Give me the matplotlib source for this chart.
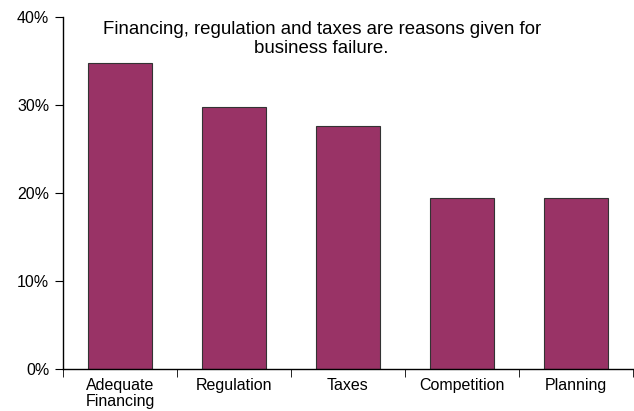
import matplotlib
matplotlib.use("Agg")
import matplotlib.pyplot as plt
import numpy as np

categories = ["Adequate\nFinancing", "Regulation", "Taxes", "Competition", "Planning"]
values = [34.8, 29.8, 27.6, 19.5, 19.5]
yticks = [0, 10, 20, 30, 40]
ytick_labels = ["0%", "10%", "20%", "30%", "40%"]
title = "Financing, regulation and taxes are reasons given for\nbusiness failure."

plt.rcParams['font.family'] = ['Liberation Sans', 'DejaVu Sans']

fig = plt.figure(figsize=(6.34, 4.11), dpi=100)
ax = fig.add_axes([0.0994, 0.1015, 0.8986, 0.857])

x = np.arange(len(categories))
ax.bar(x, values, width=0.56, color="#993366", edgecolor="#333333", linewidth=0.8)

ax.set_xlim(-0.5, len(categories) - 0.5)
ax.set_ylim(0, 40)
ax.set_yticks(yticks)
ax.set_yticklabels(ytick_labels, fontsize=11.5)
ax.set_xticks(x)
ax.set_xticklabels(categories, fontsize=11.5, linespacing=1.1)
ax.tick_params(axis='x', length=0, pad=6)
ax.set_xticks(np.arange(-0.5, len(categories)), minor=True)
ax.tick_params(axis='x', which='minor', length=6, direction='out', color='black')
ax.tick_params(axis='y', length=6, direction='out', color='black', pad=4)

for s in ['top', 'right']:
    ax.spines[s].set_visible(False)
for s in ['left', 'bottom']:
    ax.spines[s].set_linewidth(1.0)

ax.text(0.454, 0.99, title, transform=ax.transAxes, ha='center', va='top',
        fontsize=13.4, linespacing=1.2)

fig.savefig("out.png", dpi=100)
